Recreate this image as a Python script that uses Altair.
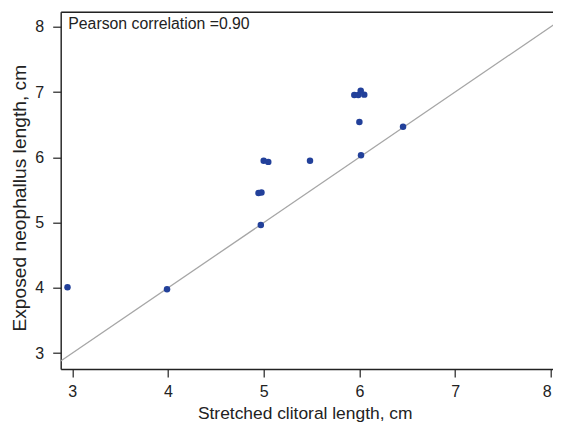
import altair as alt
import pandas as pd

# data
stretched = [2.95, 3.99, 4.97, 4.946, 4.977, 5.00, 5.048, 5.484, 6.00, 6.017, 6.456,
             5.947, 5.989, 6.014, 6.051]
exposed = [4.01, 3.98, 4.965, 5.455, 5.46, 5.948, 5.93, 5.948, 6.54, 6.03, 6.469,
           6.955, 6.955, 7.02, 6.96]
ref_line = [2.5, 8.5]  # identity line y = x
x_ticks = [3, 4, 5, 6, 7, 8]
y_ticks = [3, 4, 5, 6, 7, 8]
annotation = ["Pearson correlation =0.90"]

pts = pd.DataFrame({"x": stretched, "y": exposed})
line_df = pd.DataFrame({"x": ref_line, "y": ref_line})
ann_df = pd.DataFrame({"t": annotation})

XDOM = [2.879, 8.023]
YDOM = [2.758, 8.23]
FONT = "Liberation Sans"

xscale = alt.Scale(domain=XDOM, nice=False, zero=False)
yscale = alt.Scale(domain=YDOM, nice=False, zero=False)

x_axis = alt.Axis(
    values=x_ticks, tickSize=8, tickColor="#222", tickWidth=1.2,
    domainColor="#222", domainWidth=1.4, labelFontSize=16, labelColor="#222",
    labelFont=FONT, labelPadding=6, grid=False,
    labelOffset={"condition": {"test": "datum.value == 8", "value": -4}, "value": 0},
    title="Stretched clitoral length, cm", titleFont=FONT, titleFontSize=17.4,
    titleFontWeight="normal", titleColor="#222", titleBaseline="alphabetic",
    titleX=244, titleY=49,
)
y_axis = alt.Axis(
    values=y_ticks, tickSize=8, tickColor="#222", tickWidth=1.2,
    domainColor="#222", domainWidth=1.4, labelFontSize=16, labelColor="#222",
    labelFont=FONT, labelPadding=9, grid=False,
    title="Exposed neophallus length, cm", titleFont=FONT, titleFontSize=19.2,
    titleFontWeight="normal", titleColor="#222", titleBaseline="alphabetic",
    titleAngle=-90, titleX=-35.7, titleY=186,
)
top_axis = alt.Axis(orient="top", labels=False, ticks=False, domain=True,
                    domainColor="#222", domainWidth=1.4, grid=False, title=None)

line = alt.Chart(line_df).mark_line(color="#a6a6a6", strokeWidth=1.3, clip=True).encode(
    x=alt.X("x:Q", scale=xscale, axis=top_axis),
    y=alt.Y("y:Q", scale=yscale, axis=y_axis),
)

points = alt.Chart(pts).mark_circle(size=42, color="#22409a", opacity=1).encode(
    x=alt.X("x:Q", scale=xscale, axis=x_axis),
    y=alt.Y("y:Q", scale=yscale, axis=y_axis),
)

text = alt.Chart(ann_df).mark_text(
    align="left", baseline="alphabetic", fontSize=15.8, font=FONT, color="#222"
).encode(x=alt.value(7.6), y=alt.value(17.6), text="t:N")

chart = (
    alt.layer(line, points, text)
    .resolve_axis(x="independent")
    .properties(
        width=492.3,
        height=357.3,
        autosize=alt.AutoSizeParams(type="none"),
        padding={"left": 52.7, "top": 3.7, "right": 0, "bottom": 53},
    )
    .configure_view(stroke=None)
    .configure(background="white")
)

chart.save("out.html", embed_options={"renderer": "svg", "actions": False})
